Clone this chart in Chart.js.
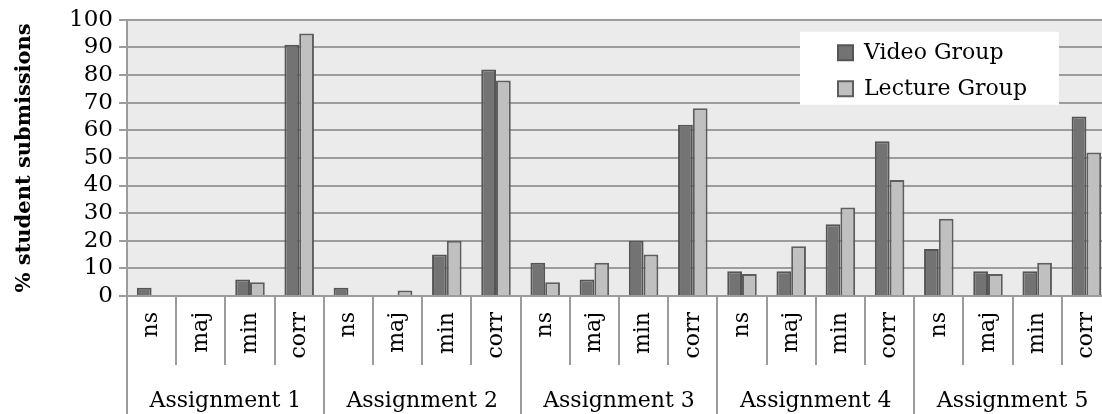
<!DOCTYPE html>
<html>
<head>
<meta charset="utf-8">
<script src="https://cdn.jsdelivr.net/npm/chart.js@4.4.0/dist/chart.umd.min.js"></script>
<style>
  html, body { margin: 0; padding: 0; overflow: hidden; background: #fff; }
  #wrap { width: 1113px; height: 414px; }
</style>
</head>
<body>
<div id="wrap"><canvas id="SubmissionChart"></canvas></div>
<script>
const categories = ['ns', 'maj', 'min', 'corr', 'ns', 'maj', 'min', 'corr', 'ns', 'maj', 'min', 'corr',
  'ns', 'maj', 'min', 'corr', 'ns', 'maj', 'min', 'corr'];
const assignments = ['Assignment 1', 'Assignment 2', 'Assignment 3', 'Assignment 4', 'Assignment 5'];
const videoGroup = [3, 0, 6, 91, 3, 0, 15, 82, 12, 6, 20, 62, 9, 9, 26, 56, 17, 9, 9, 65];
const lectureGroup = [0, 0, 5, 95, 0, 2, 20, 78, 5, 12, 15, 68, 8, 18, 32, 42, 28, 8, 12, 52];
const yMin = 0, yMax = 100, yStep = 10;

const serif = 'DejaVu Serif';
const gridGray = '#9c9c9c';

// plot background + white legend box, legend moved inside the plot
const legendBox = {
  id: 'legendBox',
  beforeLayout(chart) {
    const lg = chart.legend;
    if (lg) lg._layers = () => [{ z: 1, draw: (area) => lg.draw(area) }];
  },
  afterLayout(chart) {
    const lg = chart.legend, a = chart.chartArea;
    lg.left = a.right - 287;
    lg.top = a.top + 8;
    lg.width = lg.right - lg.left;
  },
  beforeDraw(chart) {
    const { ctx, chartArea: a } = chart;
    ctx.save();
    ctx.fillStyle = '#ebebeb';
    ctx.fillRect(a.left, a.top, a.width, a.height);
    ctx.restore();
  },
  afterDatasetsDraw(chart) {
    const { ctx, chartArea: a } = chart;
    ctx.save();
    ctx.fillStyle = '#ffffff';
    ctx.fillRect(a.right - 311, a.top + 12, 259, 73);
    ctx.restore();
  }
};

const ctx = document.getElementById('SubmissionChart');

const SubmissionChart = new Chart(ctx, {
  type: 'bar',
  data: {
    labels: categories,
    datasets: [{
      label: 'Video Group',
      data: videoGroup,
      backgroundColor: '#737373',
      borderColor: '#555555',
      borderWidth: 2
    }, {
      label: 'Lecture Group',
      data: lectureGroup,
      backgroundColor: '#c0c0c0',
      borderColor: '#5e5e5e',
      borderWidth: 2
    }]
  },
  options: {
    responsive: true,
    maintainAspectRatio: false,
    animation: false,
    categoryPercentage: 0.6,
    barPercentage: 1.0,
    layout: { padding: { top: 15, left: 0, right: 2, bottom: 0 } },
    plugins: {
      legend: {
        position: 'chartArea',
        align: 'start',
        labels: {
          font: { family: serif, size: 22 },
          color: '#000',
          boxWidth: 15,
          boxHeight: 15,
          padding: 14
        }
      },
      tooltip: { enabled: false }
    },
    scales: {
      x: {
        position: 'bottom',
        weight: 0,
        offset: true,
        grid: { offset: true, drawOnChartArea: false, tickLength: 69, color: gridGray, lineWidth: 2 },
        border: { display: false },
        ticks: {
          autoSkip: false,
          minRotation: 90,
          maxRotation: 90,
          padding: -53,
          color: '#000',
          font: { family: serif, size: 22 }
        },
        afterFit: (scale) => { scale.height = 69; }
      },
      x2: {
        type: 'category',
        position: 'bottom',
        weight: 1,
        labels: assignments,
        offset: true,
        grid: { offset: true, drawOnChartArea: false, tickLength: 49, color: gridGray, lineWidth: 2 },
        border: { display: false },
        ticks: {
          padding: -26,
          color: '#000',
          font: { family: serif, size: 22 }
        },
        afterFit: (scale) => { scale.height = 49; }
      },
      y: {
        min: yMin,
        max: yMax,
        ticks: {
          stepSize: yStep,
          autoSkip: false,
          padding: 6,
          color: '#000',
          font: { family: serif, size: 23 }
        },
        grid: { color: gridGray, lineWidth: 2, tickLength: 8 },
        border: { color: gridGray, width: 2 },
        title: {
          display: true,
          text: '% student submissions',
          color: '#000',
          font: { family: serif, size: 21, weight: 'bold' },
          padding: { top: 12, bottom: 0 }
        },
        afterFit: (scale) => { scale.width = 127; }
      }
    }
  },
  plugins: [legendBox]
});
</script>
</body>
</html>
